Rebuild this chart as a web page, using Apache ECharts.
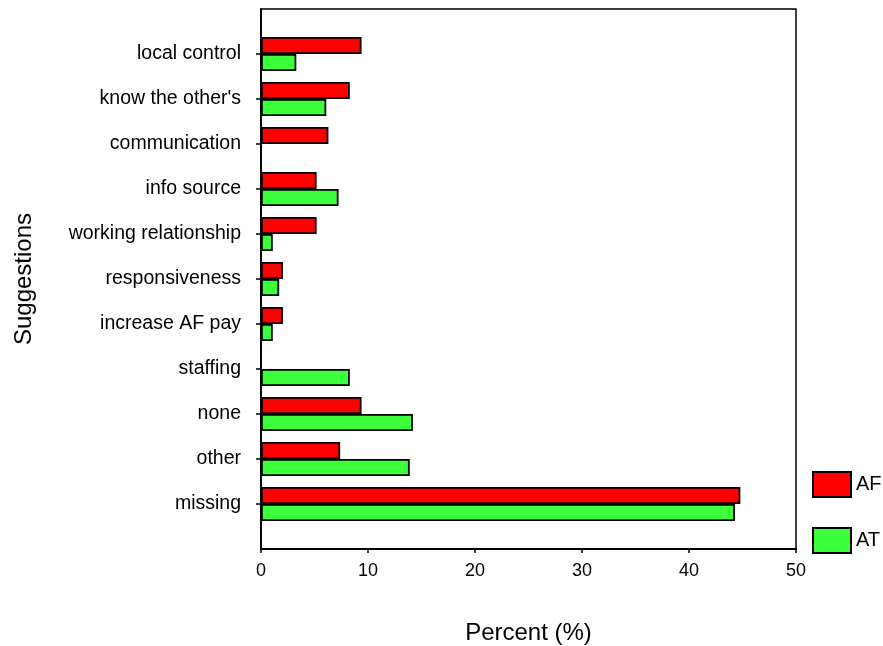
<!DOCTYPE html>
<html>
<head>
<meta charset="utf-8">
<script src="https://cdn.jsdelivr.net/npm/echarts@6/dist/echarts.min.js"></script>
<style>
html,body{margin:0;padding:0;background:#fff;}
#chart{width:883px;height:646px;}
</style>
</head>
<body>
<div id="chart"></div>
<script>
// Categories, top to bottom
const categories = ['local control', "know the other's", 'communication', 'info source',
  'working relationship', 'responsiveness', 'increase AF pay', 'staffing', 'none', 'other', 'missing'];
const afValues = [9.4, 8.3, 6.3, 5.2, 5.2, 2.05, 2.05, 0, 9.4, 7.4, 44.8];
const atValues = [3.3, 6.1, 0, 7.25, 1.1, 1.7, 1.1, 8.3, 14.2, 13.9, 44.3];
const xTicks = [0, 10, 20, 30, 40, 50];

// padded category list so categories sit on ticks with half-gaps at the ends
const axisCats = [''].concat(categories, ['']);
const pad = (arr) => [null].concat(arr, [null]);

const font = 'Liberation Sans, Arial, sans-serif';
const chart = echarts.init(document.getElementById('chart'));
chart.setOption({
  animation: false,
  backgroundColor: '#fff',
  textStyle: { fontFamily: font, color: '#000' },
  grid: { left: 261, top: 9, right: 87, bottom: 97, show: true, borderColor: '#000', borderWidth: 1.5,
    containLabel: false, outerBoundsMode: 'none' },
  legend: {
    orient: 'vertical', left: 812, top: 471, padding: 0,
    itemWidth: 38, itemHeight: 25, itemGap: 29, icon: 'rect',
    textStyle: { fontSize: 20, color: '#000', fontFamily: font },
    data: ['AF', 'AT']
  },
  xAxis: {
    type: 'value', min: xTicks[0], max: xTicks[xTicks.length - 1], interval: 10,
    name: 'Percent (%)', nameLocation: 'middle', nameGap: 72,
    nameTextStyle: { fontSize: 24, color: '#000', fontFamily: font },
    splitLine: { show: false },
    axisLine: { show: true, lineStyle: { color: '#000', width: 2 } },
    axisTick: { show: true, length: 4, lineStyle: { color: '#000', width: 1.5 } },
    axisLabel: { fontSize: 18, color: '#000', margin: 13, fontFamily: font }
  },
  yAxis: {
    type: 'category', data: axisCats, inverse: true, boundaryGap: false,
    name: 'Suggestions', nameLocation: 'middle', nameGap: 225,
    nameTextStyle: { fontSize: 24, color: '#000', fontFamily: font },
    axisLine: { show: true, lineStyle: { color: '#000', width: 2 } },
    axisTick: { show: true, length: 5, interval: (i) => i > 0 && i < axisCats.length - 1,
      lineStyle: { color: '#000', width: 1.5 } },
    axisLabel: { fontSize: 19.5, color: '#000', margin: 20, fontFamily: font, interval: 0 },
    splitLine: { show: false }
  },
  series: [
    {
      name: 'AF', type: 'bar', data: pad(afValues), barWidth: 17, barGap: '0%',
      itemStyle: { color: '#ff0000', borderColor: '#000', borderWidth: 1.8 }
    },
    {
      name: 'AT', type: 'bar', data: pad(atValues), barWidth: 17, barGap: '0%',
      itemStyle: { color: '#3cff3c', borderColor: '#000', borderWidth: 1.8 }
    }
  ]
});
</script>
</body>
</html>
